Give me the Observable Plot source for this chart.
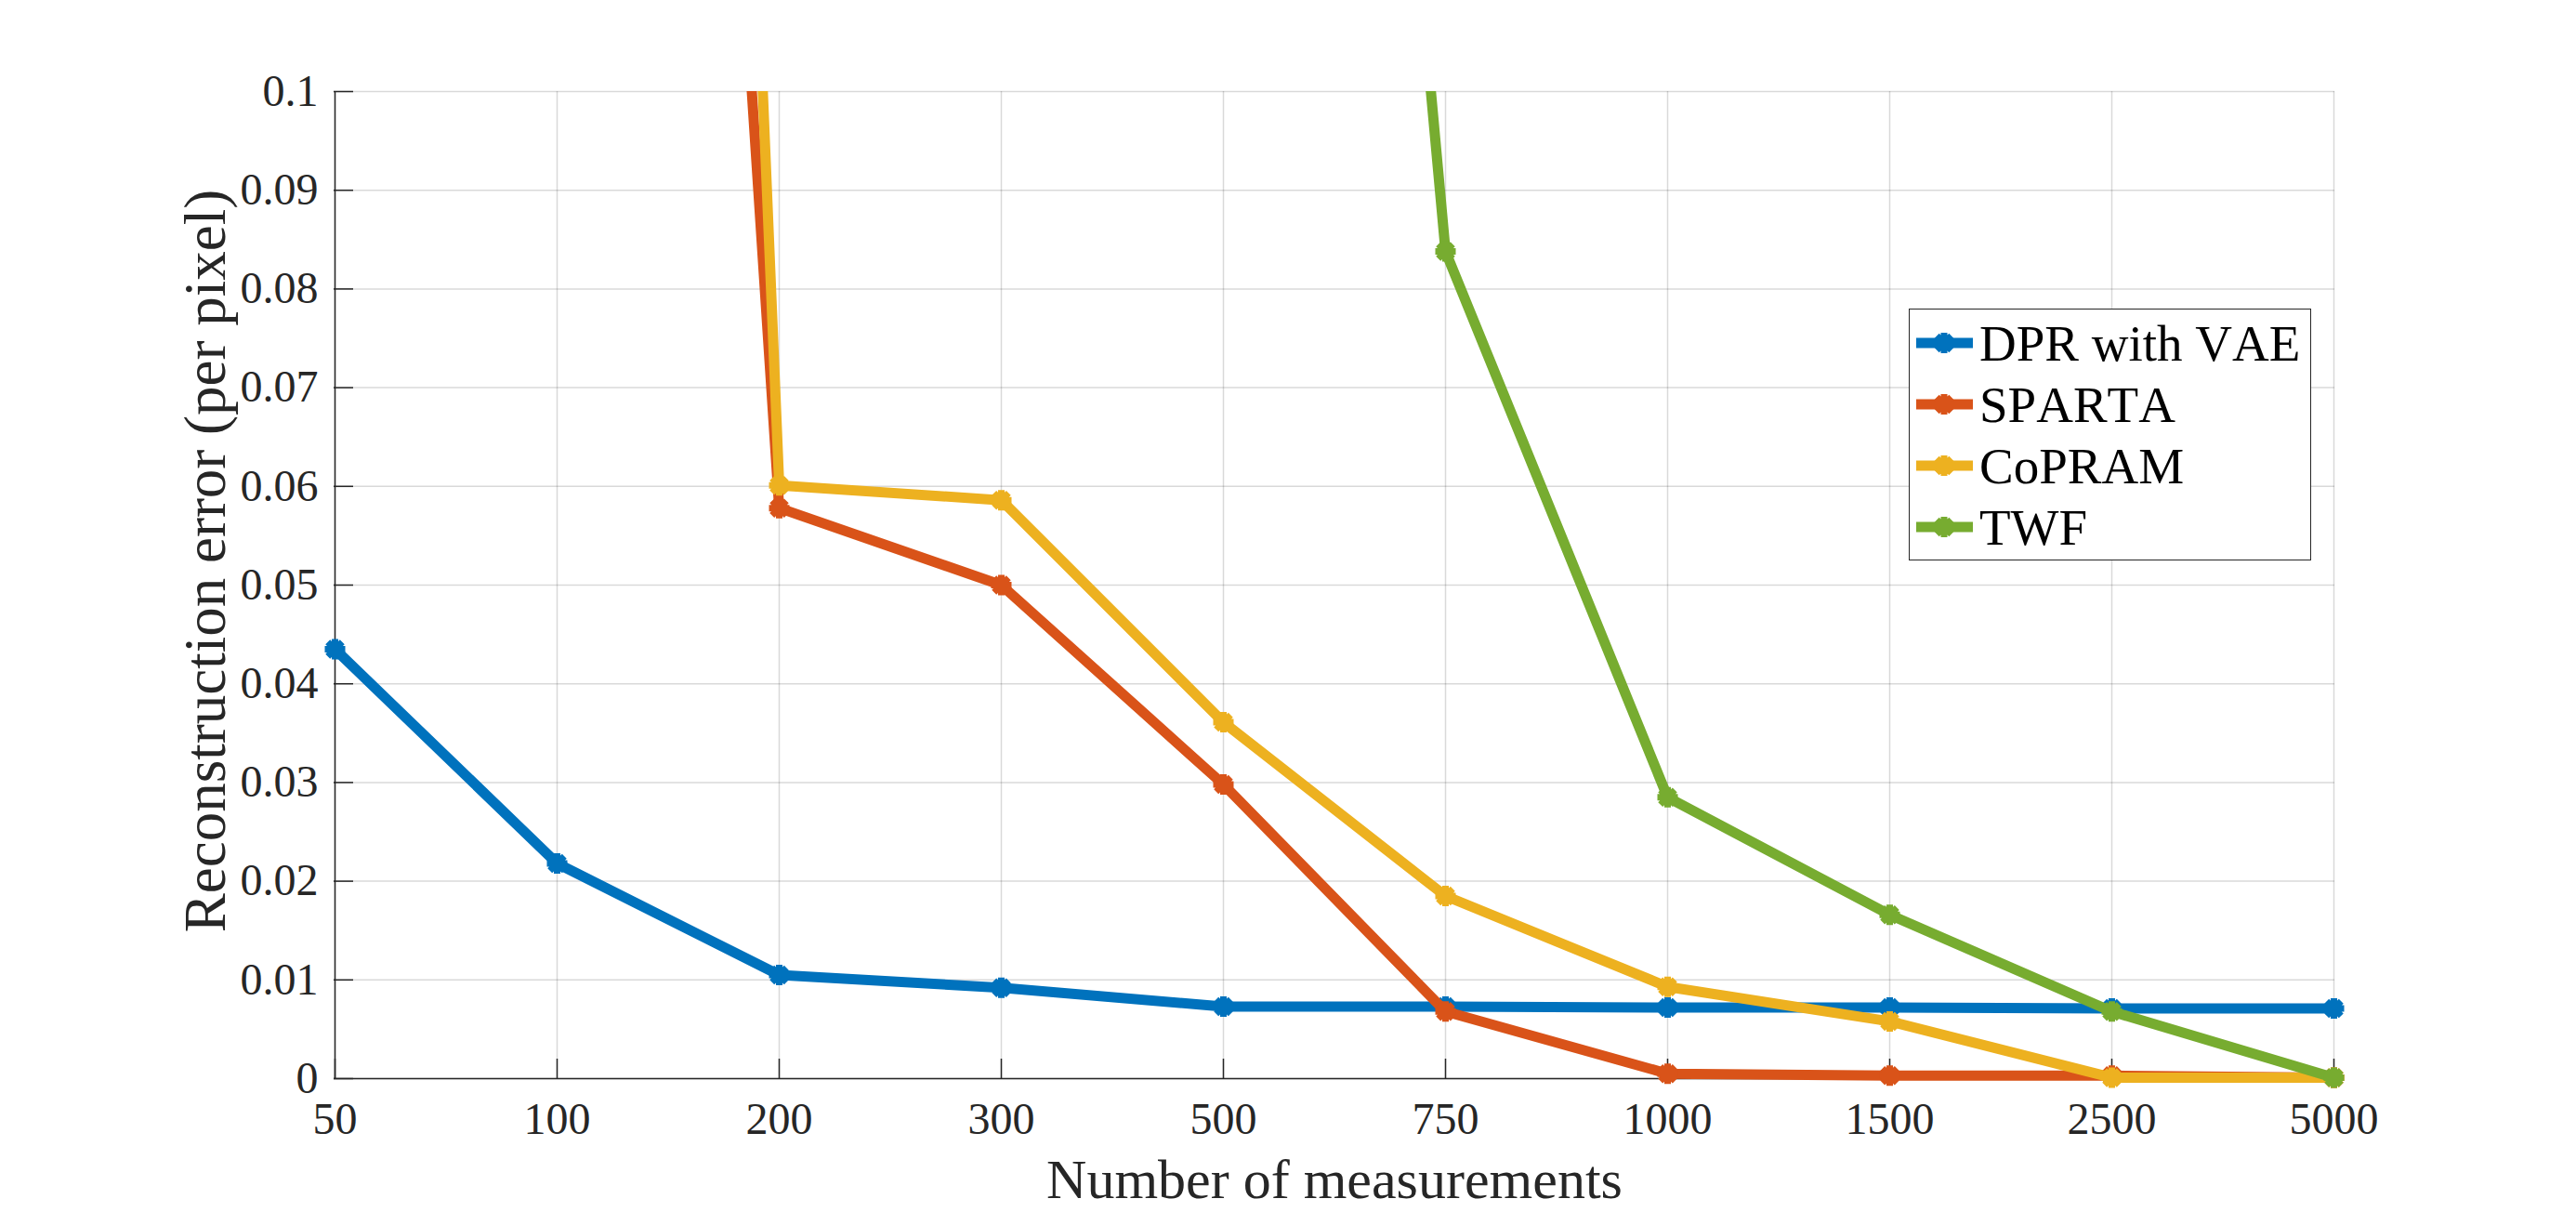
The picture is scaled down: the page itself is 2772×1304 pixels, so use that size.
<!DOCTYPE html>
<html>
<head>
<meta charset="utf-8">
<script src="https://cdn.jsdelivr.net/npm/d3@7"></script>
<script src="https://cdn.jsdelivr.net/npm/@observablehq/plot@0.6"></script>
<style>
  html, body { margin: 0; padding: 0; background: #fff; }
  #wrap { position: relative; width: 2772px; height: 1304px; overflow: hidden; }
  #legend { position: absolute; left: 2054px; top: 332px; width: 433px; height: 271px;
            border: 1.5px solid #262626; background: #fff; box-sizing: border-box;
            font-family: "Liberation Serif", "Times New Roman", serif; font-size: 55px; color: #000;
            font-kerning: none; }
  .row { position: absolute; left: 6px; height: 66px; display: flex; align-items: center; white-space: nowrap; }
  .row svg { display: block; margin-right: 5px; }
</style>
</head>
<body>
<div id="wrap"></div>
<script>
// ---- data ----
const xLabels = ["50", "100", "200", "300", "500", "750", "1000", "1500", "2500", "5000"];
const seriesNames = ["DPR with VAE", "SPARTA", "CoPRAM", "TWF"];
const seriesColors = ["#0072BD", "#D95319", "#EDB120", "#77AC30"];
const dprVAE = [0.0435, 0.0218, 0.0105, 0.0092, 0.0073, 0.0073, 0.0072, 0.0072, 0.0071, 0.0071];
const sparta = [null, 0.40, 0.0578, 0.0500, 0.0298, 0.0068, 0.0005, 0.0003, 0.0003, 0.0001];
const copram = [null, 0.60, 0.0601, 0.0586, 0.0361, 0.0185, 0.0093, 0.0058, 0.0001, 0.0001];
const twf    = [null, null, null, null, 0.33, 0.0838, 0.0285, 0.0166, 0.0068, 0.0001];
const yTicks = [0, 0.01, 0.02, 0.03, 0.04, 0.05, 0.06, 0.07, 0.08, 0.09, 0.1];
const yTickLabels = ["0", "0.01", "0.02", "0.03", "0.04", "0.05", "0.06", "0.07", "0.08", "0.09", "0.1"];
const xTitle = "Number of measurements";
const yTitle = "Reconstruction error (per pixel)";

const seriesValues = [dprVAE, sparta, copram, twf];
const table = [];
seriesNames.forEach((s, si) => {
  xLabels.forEach((x, xi) => table.push({s, x, v: seriesValues[si][xi]}));
});

// MATLAB-like '*' marker (8 spokes)
const star = {
  draw(ctx, size) {
    const r = Math.sqrt(size / Math.PI);
    for (let i = 0; i < 4; i++) {
      const a = i * Math.PI / 4;
      ctx.moveTo(-r * Math.cos(a), -r * Math.sin(a));
      ctx.lineTo(r * Math.cos(a), r * Math.sin(a));
    }
  }
};

const W = 2772, H = 1304, mL = 359, mR = 260, mT = 98, mB = 144;
const plotW = W - mL - mR, plotH = H - mT - mB;
const tickLen = 21;
const axisColor = "#262626";
const lineW = 11, markR = 11, markW = 7;

const seriesMarks = seriesNames.flatMap(s => {
  const rows = table.filter(d => d.s === s);
  return [
    Plot.line(rows, {x: "x", y: "v", stroke: "s", strokeWidth: lineW, strokeLinejoin: "round", clip: true}),
    Plot.dot(rows, {x: "x", y: "v", stroke: "s", symbol: star, r: markR, strokeWidth: markW, fill: "none",
                    filter: d => d.v != null && d.v <= 0.1})
  ];
});

const chart = Plot.plot({
  width: W, height: H,
  marginLeft: mL, marginRight: mR, marginTop: mT, marginBottom: mB,
  style: {fontFamily: '"Liberation Serif", "Times New Roman", serif', background: "#fff", color: axisColor},
  x: {type: "point", domain: xLabels, padding: 0, label: null},
  y: {domain: [0, 0.1], label: null},
  color: {domain: seriesNames, range: seriesColors},
  marks: [
    Plot.gridX(xLabels, {stroke: "#000", strokeOpacity: 0.15, strokeWidth: 1.5}),
    Plot.gridY(yTicks, {stroke: "#000", strokeOpacity: 0.15, strokeWidth: 1.5}),
    // inward ticks
    Plot.ruleX(xLabels, {x: d => d, insetTop: plotH - tickLen, stroke: axisColor, strokeWidth: 1.5}),
    Plot.ruleY(yTicks, {y: d => d, insetRight: plotW - tickLen, stroke: axisColor, strokeWidth: 1.5}),
    // axis lines
    Plot.ruleX([xLabels[0]], {x: d => d, stroke: axisColor, strokeWidth: 1.5}),
    Plot.ruleY([0], {stroke: axisColor, strokeWidth: 1.5}),
    Plot.axisX({tickSize: 0, tickPadding: 25, fontSize: 48, label: null}),
    Plot.axisY({ticks: yTicks, tickFormat: d => yTickLabels[yTicks.indexOf(d)], tickSize: 0, tickPadding: 17, fontSize: 48, label: null}),
    Plot.text([xTitle], {text: d => d, frameAnchor: "bottom", dy: 109, fontSize: 60, lineAnchor: "middle", fill: axisColor}),
    Plot.text([yTitle], {text: d => d, frameAnchor: "left", rotate: -90, dx: -138, dy: -26, fontSize: 63, lineAnchor: "middle", textAnchor: "middle", fill: axisColor}),
    ...seriesMarks
  ]
});

// let thick lines near the bottom/right edges overflow the frame (clip only the top)
chart.querySelectorAll("clipPath rect").forEach(r => {
  const x = +r.getAttribute("x"), w = +r.getAttribute("width"), h = +r.getAttribute("height");
  r.setAttribute("x", x - 14); r.setAttribute("width", w + 28); r.setAttribute("height", h + 14);
});

const wrap = document.getElementById("wrap");
wrap.appendChild(chart);

// legend
const legend = document.createElement("div");
legend.id = "legend";
seriesNames.forEach((s, i) => {
  const row = document.createElement("div");
  row.className = "row";
  row.style.top = (3 + i * 66) + "px";
  const ns = "http://www.w3.org/2000/svg";
  const svg = document.createElementNS(ns, "svg");
  svg.setAttribute("width", 64); svg.setAttribute("height", 30);
  const line = document.createElementNS(ns, "line");
  line.setAttribute("x1", 1); line.setAttribute("x2", 62); line.setAttribute("y1", 15); line.setAttribute("y2", 15);
  line.setAttribute("stroke", seriesColors[i]); line.setAttribute("stroke-width", lineW);
  svg.appendChild(line);
  const p = d3.path(); star.draw(p, Math.PI * markR * markR);
  const mk = document.createElementNS(ns, "path");
  mk.setAttribute("d", p.toString()); mk.setAttribute("transform", "translate(31,15)");
  mk.setAttribute("stroke", seriesColors[i]); mk.setAttribute("stroke-width", markW); mk.setAttribute("fill", "none");
  svg.appendChild(mk);
  row.appendChild(svg);
  const t = document.createElement("span");
  t.textContent = s;
  row.appendChild(t);
  legend.appendChild(row);
});
wrap.appendChild(legend);
</script>
</body>
</html>
